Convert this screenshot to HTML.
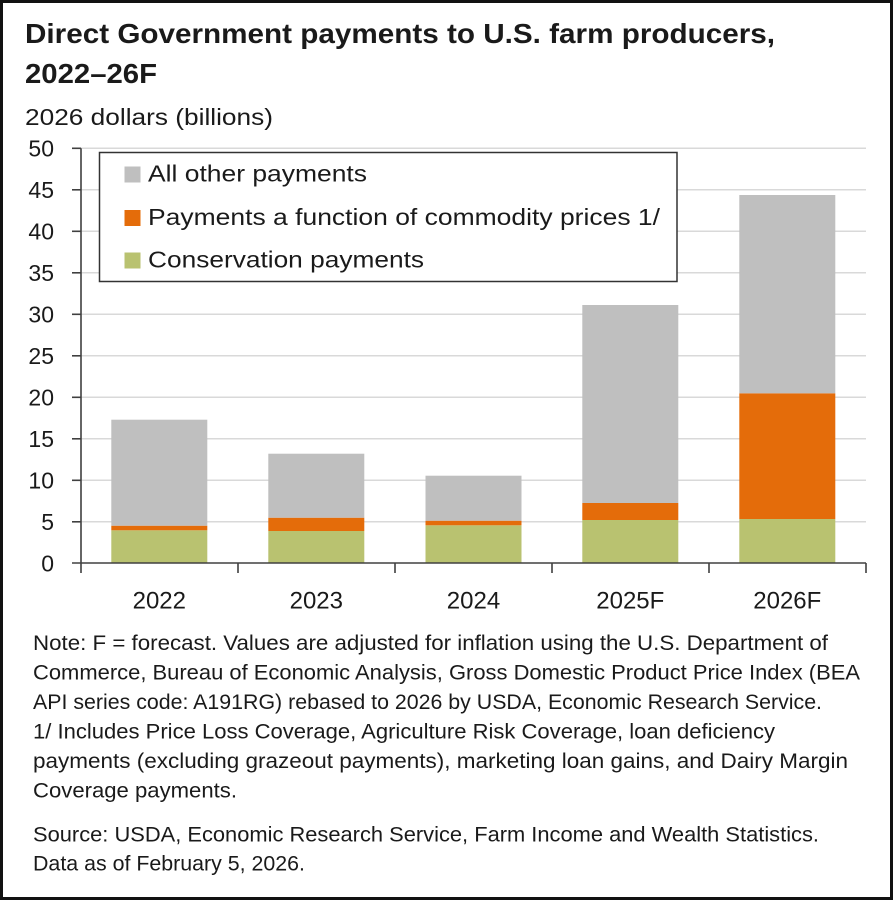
<!DOCTYPE html>
<html>
<head>
<meta charset="utf-8">
<style>
  html,body{margin:0;padding:0;background:#fff;}
  svg{display:block;}
  text{font-family:"Liberation Sans", "DejaVu Sans", sans-serif; fill:#1a1a1a;}
</style>
</head>
<body>
<svg width="893" height="900" viewBox="0 0 893 900" xmlns="http://www.w3.org/2000/svg">
  <rect x="0" y="0" width="893" height="900" fill="#fff"/>

  <!-- Title -->
  <text x="25" y="43" font-size="28" font-weight="bold" textLength="750" lengthAdjust="spacingAndGlyphs" fill="#000">Direct Government payments to U.S. farm producers,</text>
  <text x="25" y="83" font-size="28" font-weight="bold" textLength="132" lengthAdjust="spacingAndGlyphs" fill="#000">2022–26F</text>
  <text x="25" y="125" font-size="23" textLength="248" lengthAdjust="spacingAndGlyphs">2026 dollars (billions)</text>

  <!-- Gridlines -->
  <g stroke="#d9d9d9" stroke-width="1.5">
    <line x1="81" y1="148.3" x2="866" y2="148.3"/>
    <line x1="81" y1="189.8" x2="866" y2="189.8"/>
    <line x1="81" y1="231.3" x2="866" y2="231.3"/>
    <line x1="81" y1="272.8" x2="866" y2="272.8"/>
    <line x1="81" y1="314.3" x2="866" y2="314.3"/>
    <line x1="81" y1="355.8" x2="866" y2="355.8"/>
    <line x1="81" y1="397.3" x2="866" y2="397.3"/>
    <line x1="81" y1="438.8" x2="866" y2="438.8"/>
    <line x1="81" y1="480.3" x2="866" y2="480.3"/>
    <line x1="81" y1="521.8" x2="866" y2="521.8"/>
  </g>

  <!-- Bars -->
  <g>
    <!-- 2022 -->
    <rect x="111.3" y="530.3" width="96" height="32.7" fill="#b9c270"/>
    <rect x="111.3" y="525.7" width="96" height="4.6" fill="#e46c0a"/>
    <rect x="111.3" y="419.7" width="96" height="106" fill="#bfbfbf"/>
    <!-- 2023 -->
    <rect x="268.3" y="531" width="96" height="32" fill="#b9c270"/>
    <rect x="268.3" y="517.7" width="96" height="13.3" fill="#e46c0a"/>
    <rect x="268.3" y="453.7" width="96" height="64" fill="#bfbfbf"/>
    <!-- 2024 -->
    <rect x="425.5" y="525.3" width="96" height="37.7" fill="#b9c270"/>
    <rect x="425.5" y="520.7" width="96" height="4.6" fill="#e46c0a"/>
    <rect x="425.5" y="475.7" width="96" height="45" fill="#bfbfbf"/>
    <!-- 2025F -->
    <rect x="582.3" y="520" width="96" height="43" fill="#b9c270"/>
    <rect x="582.3" y="503" width="96" height="17" fill="#e46c0a"/>
    <rect x="582.3" y="305" width="96" height="198" fill="#bfbfbf"/>
    <!-- 2026F -->
    <rect x="739.3" y="519" width="96" height="44" fill="#b9c270"/>
    <rect x="739.3" y="393.3" width="96" height="125.7" fill="#e46c0a"/>
    <rect x="739.3" y="195" width="96" height="198.3" fill="#bfbfbf"/>
  </g>

  <!-- Axes -->
  <g stroke="#404040" stroke-width="1.6">
    <line x1="81" y1="148.3" x2="81" y2="563"/>
    <line x1="72" y1="563" x2="866" y2="563"/>
    <!-- y ticks -->
    <line x1="72" y1="148.3" x2="81" y2="148.3"/>
    <line x1="72" y1="189.8" x2="81" y2="189.8"/>
    <line x1="72" y1="231.3" x2="81" y2="231.3"/>
    <line x1="72" y1="272.8" x2="81" y2="272.8"/>
    <line x1="72" y1="314.3" x2="81" y2="314.3"/>
    <line x1="72" y1="355.8" x2="81" y2="355.8"/>
    <line x1="72" y1="397.3" x2="81" y2="397.3"/>
    <line x1="72" y1="438.8" x2="81" y2="438.8"/>
    <line x1="72" y1="480.3" x2="81" y2="480.3"/>
    <line x1="72" y1="521.8" x2="81" y2="521.8"/>
    <!-- x ticks -->
    <line x1="81" y1="563" x2="81" y2="573"/>
    <line x1="238" y1="563" x2="238" y2="573"/>
    <line x1="395" y1="563" x2="395" y2="573"/>
    <line x1="552" y1="563" x2="552" y2="573"/>
    <line x1="709" y1="563" x2="709" y2="573"/>
    <line x1="866" y1="563" x2="866" y2="573"/>
  </g>

  <!-- Y tick labels -->
  <g font-size="23" text-anchor="end">
    <text x="54" y="156.6">50</text>
    <text x="54" y="198.1">45</text>
    <text x="54" y="239.6">40</text>
    <text x="54" y="281.1">35</text>
    <text x="54" y="322.6">30</text>
    <text x="54" y="364.1">25</text>
    <text x="54" y="405.6">20</text>
    <text x="54" y="447.1">15</text>
    <text x="54" y="488.6">10</text>
    <text x="54" y="530.1">5</text>
    <text x="54" y="571.6">0</text>
  </g>

  <!-- X labels -->
  <g font-size="24" text-anchor="middle">
    <text x="159.3" y="608.5">2022</text>
    <text x="316.3" y="608.5">2023</text>
    <text x="473.5" y="608.5">2024</text>
    <text x="630.3" y="608.5">2025F</text>
    <text x="787.3" y="608.5">2026F</text>
  </g>

  <!-- Legend -->
  <rect x="99.5" y="152.5" width="577.5" height="129" fill="#fff" stroke="#333" stroke-width="1.5"/>
  <rect x="124.5" y="166.5" width="16" height="16" fill="#bfbfbf"/>
  <rect x="124.5" y="210" width="16" height="16" fill="#e46c0a"/>
  <rect x="124.5" y="252.5" width="16" height="16" fill="#b9c270"/>
  <text x="148" y="181.5" font-size="23" textLength="219" lengthAdjust="spacingAndGlyphs">All other payments</text>
  <text x="148" y="225" font-size="23" textLength="512" lengthAdjust="spacingAndGlyphs">Payments a function of commodity prices 1/</text>
  <text x="148" y="267.5" font-size="23" textLength="276" lengthAdjust="spacingAndGlyphs">Conservation payments</text>

  <!-- Notes -->
  <g font-size="21">
    <text x="33" y="650" textLength="795" lengthAdjust="spacingAndGlyphs">Note: F = forecast. Values are adjusted for inflation using the U.S. Department of</text>
    <text x="33" y="679.5" textLength="827" lengthAdjust="spacingAndGlyphs">Commerce, Bureau of Economic Analysis, Gross Domestic Product Price Index (BEA</text>
    <text x="33" y="709" textLength="789" lengthAdjust="spacingAndGlyphs">API series code: A191RG) rebased to 2026 by USDA, Economic Research Service.</text>
    <text x="33" y="738.5" textLength="742" lengthAdjust="spacingAndGlyphs">1/ Includes Price Loss Coverage, Agriculture Risk Coverage, loan deficiency</text>
    <text x="33" y="768" textLength="815" lengthAdjust="spacingAndGlyphs">payments (excluding grazeout payments), marketing loan gains, and Dairy Margin</text>
    <text x="33" y="797.5" textLength="204" lengthAdjust="spacingAndGlyphs">Coverage payments.</text>
    <text x="33" y="841.5" textLength="786" lengthAdjust="spacingAndGlyphs">Source: USDA, Economic Research Service, Farm Income and Wealth Statistics.</text>
    <text x="33" y="870.5" textLength="272" lengthAdjust="spacingAndGlyphs">Data as of February 5, 2026.</text>
  </g>

  <!-- Outer border -->
  <rect x="1.5" y="1.5" width="890" height="897" fill="none" stroke="#111" stroke-width="3"/>
</svg>
</body>
</html>
